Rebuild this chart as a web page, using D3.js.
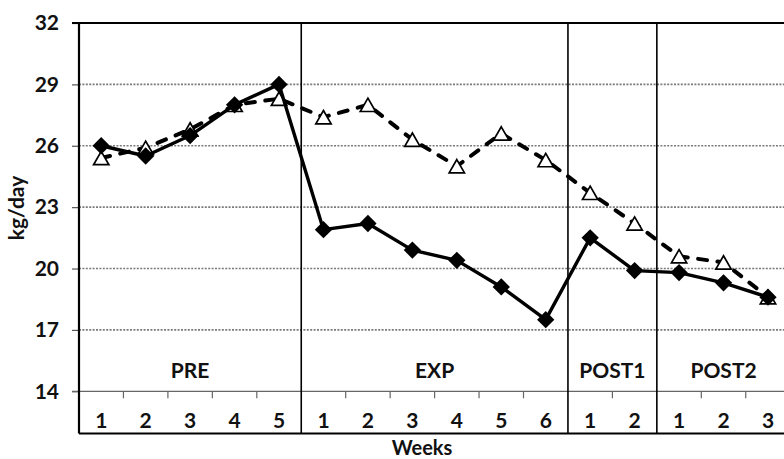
<!DOCTYPE html>
<html>
<head>
<meta charset="utf-8">
<script src="https://cdn.jsdelivr.net/npm/d3@7/dist/d3.min.js"></script>
<style>
  html, body { margin: 0; padding: 0; background: #fff; }
  svg { display: block; overflow: hidden; }
  text { font-family: Lato, "Open Sans", sans-serif; font-weight: bold; fill: #111; }
</style>
</head>
<body>
<svg id="chart" width="784" height="459"></svg>
<script>
// Weekly intake per phase (kg/day)
const phases      = ["PRE", "EXP", "POST1", "POST2"];
const phaseWeeks  = [5, 6, 2, 3];
const weekLabels  = ["1","2","3","4","5", "1","2","3","4","5","6", "1","2", "1","2","3"];
const solidSeries = [26.0, 25.5, 26.5, 28.0, 29.0, 21.9, 22.2, 20.9, 20.4, 19.1, 17.5, 21.5, 19.9, 19.8, 19.3, 18.6];
const dashSeries  = [25.4, 25.9, 26.8, 28.0, 28.3, 27.4, 28.0, 26.3, 25.0, 26.6, 25.3, 23.7, 22.2, 20.6, 20.3, 18.6];
const yTicks      = [14, 17, 20, 23, 26, 29, 32];

const FONT = 21;
const svg = d3.select("#chart");

const plotLeft = 79, plotTop = 23, plotBottom = 391.3, boxBottom = 433.5, plotRight = 790.2;

const x = d3.scaleBand().domain(d3.range(weekLabels.length)).range([plotLeft, plotRight]);
const y = d3.scaleLinear().domain([14, 32]).range([plotBottom, plotTop]);
const cx = i => x(i) + x.bandwidth() / 2;

// group boundaries (category index where each phase starts)
const starts = [];
phaseWeeks.reduce((acc, n) => { starts.push(acc); return acc + n; }, 0);

// dotted horizontal gridlines
svg.append("g")
  .selectAll("line")
  .data(yTicks.filter(t => t > 14 && t < 32))
  .join("line")
  .attr("x1", plotLeft).attr("x2", 784)
  .attr("y1", d => y(d)).attr("y2", d => y(d))
  .attr("stroke", "#7a7a7a")
  .attr("stroke-width", 1.6)
  .attr("stroke-dasharray", "2,1.4");

// value axis with outward ticks
const yAxis = d3.axisLeft(y).tickValues(yTicks).tickSize(7).tickPadding(13).tickSizeOuter(0);
const gy = svg.append("g").attr("transform", `translate(${plotLeft},0)`).call(yAxis);
gy.select(".domain").remove();
gy.selectAll(".tick line").attr("stroke", "#555").attr("stroke-width", 1.2);
gy.selectAll(".tick text").attr("font-size", FONT).attr("fill", "#111")
  .attr("font-family", "Lato, 'Open Sans', sans-serif").attr("font-weight", "bold");

// baseline at 14
svg.append("line")
  .attr("x1", plotLeft - 7).attr("x2", 784)
  .attr("y1", y(14)).attr("y2", y(14))
  .attr("stroke", "#666").attr("stroke-width", 1.2);

// small category ticks between weeks inside a phase
const innerTicks = d3.range(1, weekLabels.length).filter(i => !starts.includes(i));
svg.append("g")
  .selectAll("line")
  .data(innerTicks)
  .join("line")
  .attr("x1", d => x(d)).attr("x2", d => x(d))
  .attr("y1", y(14)).attr("y2", y(14) + 7)
  .attr("stroke", "#666").attr("stroke-width", 1.2);

// phase dividers
svg.append("g")
  .selectAll("line")
  .data(starts.slice(1))
  .join("line")
  .attr("x1", d => x(d)).attr("x2", d => x(d))
  .attr("y1", plotTop).attr("y2", boxBottom)
  .attr("stroke", "#000").attr("stroke-width", 1.6);

// frame: top, left, bottom
svg.append("line").attr("x1", plotLeft - 7).attr("x2", 784).attr("y1", plotTop).attr("y2", plotTop)
  .attr("stroke", "#000").attr("stroke-width", 2.2);
svg.append("line").attr("x1", plotLeft).attr("x2", plotLeft).attr("y1", plotTop).attr("y2", boxBottom)
  .attr("stroke", "#000").attr("stroke-width", 2.2);
svg.append("line").attr("x1", plotLeft).attr("x2", 784).attr("y1", boxBottom).attr("y2", boxBottom)
  .attr("stroke", "#000").attr("stroke-width", 2.2);

// week labels
svg.append("g")
  .selectAll("text")
  .data(weekLabels)
  .join("text")
  .attr("x", (d, i) => cx(i))
  .attr("y", 428)
  .attr("text-anchor", "middle")
  .attr("font-size", FONT)
  .text(d => d);

// phase labels
svg.append("g")
  .selectAll("text")
  .data(phases)
  .join("text")
  .attr("x", (d, i) => (x(starts[i]) + x(starts[i] + phaseWeeks[i] - 1) + x.bandwidth()) / 2)
  .attr("y", 377.5)
  .attr("text-anchor", "middle")
  .attr("font-size", FONT)
  .text(d => d);

// axis titles
svg.append("text")
  .attr("x", 422).attr("y", 455)
  .attr("text-anchor", "middle")
  .attr("font-size", 20)
  .text("Weeks");

svg.append("text")
  .attr("transform", "translate(24,208) rotate(-90)")
  .attr("text-anchor", "middle")
  .attr("font-size", FONT)
  .text("kg/day");

const line = d3.line().x((d, i) => cx(i)).y(d => y(d));

// dashed series with open triangles
svg.append("path")
  .datum(dashSeries)
  .attr("d", line)
  .attr("fill", "none")
  .attr("stroke", "#000")
  .attr("stroke-width", 4)
  .attr("stroke-linecap", "round")
  .attr("stroke-dasharray", "9,10.5");

const triangle = { draw(ctx, size) {
  const w = Math.sqrt(size), h = w * 0.87;
  ctx.moveTo(0, -h / 2); ctx.lineTo(w / 2, h / 2); ctx.lineTo(-w / 2, h / 2); ctx.closePath();
}};
svg.append("g")
  .selectAll("path")
  .data(dashSeries)
  .join("path")
  .attr("transform", (d, i) => `translate(${cx(i)},${y(d)})`)
  .attr("d", d3.symbol(triangle, 235))
  .attr("fill", "#fff")
  .attr("stroke", "#000")
  .attr("stroke-width", 1.7)
  .attr("stroke-linejoin", "miter");

// solid series with filled diamonds
svg.append("path")
  .datum(solidSeries)
  .attr("d", line)
  .attr("fill", "none")
  .attr("stroke", "#000")
  .attr("stroke-width", 3.4)
  .attr("stroke-linejoin", "round");

svg.append("g")
  .selectAll("path")
  .data(solidSeries)
  .join("path")
  .attr("transform", (d, i) => `translate(${cx(i)},${y(d)}) rotate(45)`)
  .attr("d", d3.symbol(d3.symbolSquare, 150))
  .attr("fill", "#000");
</script>
</body>
</html>
